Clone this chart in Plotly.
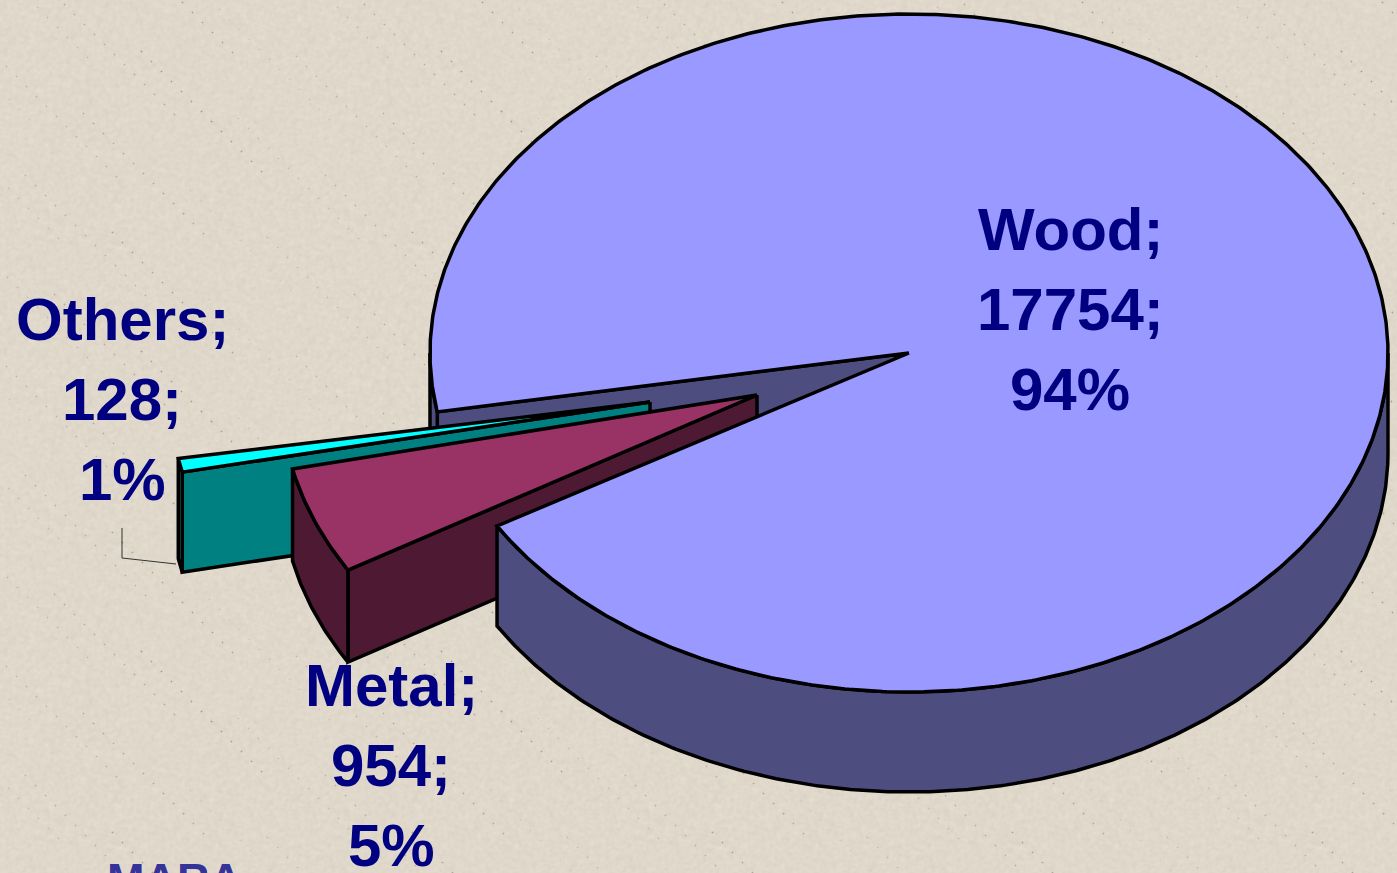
import base64
import struct
import zlib

import numpy as np
import plotly.graph_objects as go

# ---- data ----
categories = ["Wood", "Metal", "Others"]
values = [17754, 954, 128]
percent_labels = ["94%", "5%", "1%"]
source_text = "MARA"

# ---- drawing constants (pixel space, y downwards) ----
W, H = 1397, 873
BG = "#e0d9cb"
CX, CY, RX, RY = 909, 353, 479, 339
START_DEG = 170.0
OFFSETS = {"Wood": (0, 0), "Metal": (-152, 42), "Others": (-259, 49)}
RADIUS_SCALE = {"Wood": (1, 1), "Metal": (0.993, 1.012), "Others": (1, 0.96)}
DEPTHS = {"Wood": 100, "Metal": 92, "Others": 100}
TOPS = {"Wood": "#9999ff", "Metal": "#993366", "Others": "#00ffff"}
SIDES = {"Wood": "#4d4d80", "Metal": "#4d1933", "Others": "#008080"}
LABEL_POS = {"Wood": (1070, 229), "Metal": (391, 685), "Others": (122, 319)}
LINE_STEP = 80
LINE_W = 3.5


def paper_texture():
    """Repeating beige paper tile with faint mottling and small specks (decoration only)."""
    n = 300
    idx = np.arange(n * n, dtype=np.int64)
    hashed = ((idx * 2654435761) ^ (idx * idx * 40503)) % 1021
    mottle = (hashed.reshape(n, n) / 1020.0 - 0.5).astype(float)
    for _ in range(3):
        mottle = (mottle + np.roll(mottle, 1, 0) + np.roll(mottle, -1, 0)
                  + np.roll(mottle, 1, 1) + np.roll(mottle, -1, 1)) / 5.0
    mottle = mottle / np.abs(mottle).max()
    specks = np.zeros((n, n))
    for k in range(1, 130):
        specks[(k * 7919) % n, (k * 104729) % n] = 0.35 + ((k * 31) % 10) / 10.0
    soft = (specks + 0.35 * (np.roll(specks, 1, 0) + np.roll(specks, -1, 0)
                             + np.roll(specks, 1, 1) + np.roll(specks, -1, 1)))
    base = np.array([224, 217, 203], dtype=float)
    tile = base[None, None, :] + (mottle * 7)[:, :, None] - (soft * 45)[:, :, None] * np.array([1.0, 1.0, 1.05])
    tile = np.clip(tile, 0, 255).astype(np.uint8)
    full = np.tile(tile, (H // n + 1, W // n + 1, 1))[:H, :W]
    raw = b"".join(b"\x00" + full[r].tobytes() for r in range(H))

    def chunk(tag, data):
        body = tag + data
        return struct.pack(">I", len(data)) + body + struct.pack(">I", zlib.crc32(body))

    png = (b"\x89PNG\r\n\x1a\n" + chunk(b"IHDR", struct.pack(">IIBBBBB", W, H, 8, 2, 0, 0, 0))
           + chunk(b"IDAT", zlib.compress(raw, 9)) + chunk(b"IEND", b""))
    return "data:image/png;base64," + base64.b64encode(png).decode()


total = sum(values)
spans = {}
a = START_DEG
for c, v in zip(categories, values):
    spans[c] = (a, a + v / total * 360.0)
    a = spans[c][1]


def arc(cat, a0, a1, dy=0):
    dx0, dy0 = OFFSETS[cat]
    sx, sy = RADIUS_SCALE[cat]
    t = np.radians(np.linspace(a0, a1, max(2, int(abs(a1 - a0) * 2))))
    return CX + dx0 + sx * RX * np.cos(t), CY + dy0 + dy + sy * RY * np.sin(t)


def poly(xs, ys, fill, lw=LINE_W):
    return go.Scatter(
        x=np.r_[xs, xs[0]], y=np.r_[ys, ys[0]], mode="lines", fill="toself",
        fillcolor=fill, line=dict(color="black", width=lw, shape="linear"),
        hoverinfo="skip", showlegend=False,
    )


def apex(cat):
    return CX + OFFSETS[cat][0], CY + OFFSETS[cat][1]


def top_face(cat):
    a0, a1 = spans[cat]
    x, y = arc(cat, a0, a1)
    ax, ay = apex(cat)
    return poly(np.r_[ax, x], np.r_[ay, y], TOPS[cat])


def rim_side(cat, a0, a1):
    d = DEPTHS[cat]
    x, y = arc(cat, a0, a1)
    xb, yb = arc(cat, a0, a1, d)
    return poly(np.r_[x, xb[::-1]], np.r_[y, yb[::-1]], SIDES[cat])


def radial_wall(cat, ang):
    d = DEPTHS[cat]
    x, y = arc(cat, ang, ang + 0.01)
    ax, ay = apex(cat)
    return poly(np.array([ax, x[0], x[0], ax]), np.array([ay, y[0], y[0] + d, ay + d]), SIDES[cat])


fig = go.Figure()
w0, w1 = spans["Wood"]
m0, m1 = spans["Metal"]
o0, o1 = spans["Others"]

# back to front
fig.add_trace(radial_wall("Wood", w0))
fig.add_trace(rim_side("Wood", w0, 180))
fig.add_trace(radial_wall("Others", o0))
fig.add_trace(rim_side("Others", o0, o1))
fig.add_trace(top_face("Others"))
fig.add_trace(radial_wall("Metal", m0))
fig.add_trace(rim_side("Metal", m0, m1))
fig.add_trace(top_face("Metal"))
fig.add_trace(rim_side("Wood", 360, w1))
fig.add_trace(top_face("Wood"))

# leader line of the small slice
fig.add_trace(go.Scatter(x=[122, 122, 176], y=[528, 558, 564], mode="lines",
                         line=dict(color="#333333", width=1), hoverinfo="skip", showlegend=False))

annotations = []
for c, v, p in zip(categories, values, percent_labels):
    lx, ly = LABEL_POS[c]
    for i, line in enumerate([f"{c};", f"{v};", p]):
        annotations.append(dict(
            x=lx, y=ly + i * LINE_STEP, xref="x", yref="y", text=f"<b>{line}</b>",
            showarrow=False, xanchor="center", yanchor="middle",
            font=dict(family="Liberation Sans", size=60, color="#000080"),
        ))
annotations.append(dict(
    x=105, y=852, xref="x", yref="y", text=f"<b>{source_text}</b>", showarrow=False,
    xanchor="left", yanchor="top", font=dict(family="Liberation Sans", size=45, color="#333399"),
))

fig.update_layout(
    width=W, height=H, margin=dict(l=0, r=0, t=0, b=0),
    paper_bgcolor=BG, plot_bgcolor="rgba(0,0,0,0)", showlegend=False,
    xaxis=dict(range=[0, W], visible=False, fixedrange=True),
    yaxis=dict(range=[H, 0], visible=False, fixedrange=True),
    annotations=annotations,
    images=[dict(source=paper_texture(), xref="paper", yref="paper", x=0, y=1,
                 sizex=1, sizey=1, xanchor="left", yanchor="top",
                 sizing="stretch", layer="below")],
)
fig.write_html(
    "out.html",
    config=dict(displayModeBar=False),
    post_script="document.body.style.margin='0';document.body.style.overflow='hidden';document.body.style.background='" + BG + "';",
)
